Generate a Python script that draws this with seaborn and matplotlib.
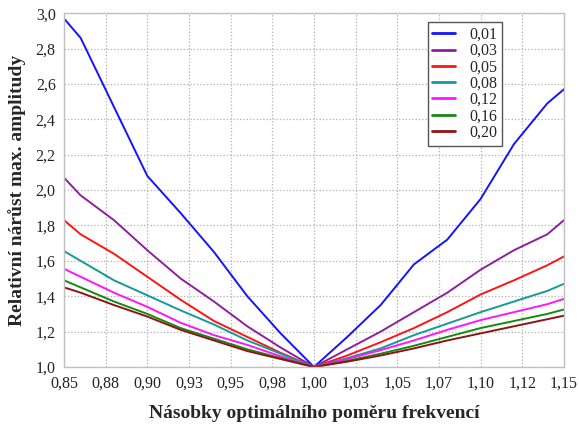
"""
Relative growth of max. amplitude vs. frequency ratio multiples
"""

# Libraries
import numpy as np
import pandas as pd
import seaborn as sns
import matplotlib
matplotlib.use('Agg')
import matplotlib.pyplot as plt

# -----------------------------------
# Data
# -----------------------------------
ratio = [0.85, 0.86, 0.88, 0.90, 0.92, 0.94, 0.96, 0.98, 1.00,
         1.02, 1.04, 1.06, 1.08, 1.10, 1.12, 1.14, 1.15]

damping = ['0,01', '0,03', '0,05', '0,08', '0,12', '0,16', '0,20']

amp_001 = [2.97, 2.86, 2.47, 2.08, 1.87, 1.65, 1.40, 1.19, 1.00,
           1.17, 1.35, 1.58, 1.72, 1.95, 2.26, 2.49, 2.57]
amp_003 = [2.07, 1.97, 1.83, 1.66, 1.50, 1.37, 1.23, 1.11, 1.00,
           1.10, 1.20, 1.31, 1.42, 1.55, 1.66, 1.75, 1.83]
amp_005 = [1.83, 1.75, 1.64, 1.51, 1.38, 1.26, 1.17, 1.08, 1.00,
           1.065, 1.14, 1.22, 1.31, 1.41, 1.49, 1.575, 1.625]
amp_008 = [1.655, 1.60, 1.49, 1.405, 1.32, 1.24, 1.15, 1.075, 1.00,
           1.05, 1.105, 1.18, 1.245, 1.31, 1.37, 1.43, 1.47]
amp_012 = [1.555, 1.51, 1.42, 1.34, 1.25, 1.18, 1.125, 1.06, 1.00,
           1.045, 1.095, 1.15, 1.21, 1.265, 1.31, 1.355, 1.385]
amp_016 = [1.49, 1.45, 1.37, 1.30, 1.22, 1.16, 1.10, 1.05, 1.00,
           1.035, 1.075, 1.12, 1.17, 1.22, 1.26, 1.30, 1.325]
amp_020 = [1.45, 1.42, 1.35, 1.285, 1.21, 1.15, 1.09, 1.045, 1.00,
           1.03, 1.065, 1.105, 1.15, 1.19, 1.23, 1.27, 1.29]

xtick_labels = ['0,85', '0,88', '0,90', '0,93', '0,95', '0,98', '1,00',
                '1,03', '1,05', '1,07', '1,10', '1,12', '1,15']
ytick_labels = ['1,0', '1,2', '1,4', '1,6', '1,8', '2,0', '2,2',
                '2,4', '2,6', '2,8', '3,0']

colors = ['#1414ff', '#8e1f9e', '#ff1414', '#149a9a',
          '#ff14ff', '#148a14', '#8e1414']

# -----------------------------------
# Tidy data
# -----------------------------------
series = [amp_001, amp_003, amp_005, amp_008, amp_012, amp_016, amp_020]
data = pd.concat([
    pd.DataFrame({'ratio': ratio, 'amp': s, 'damping': d})
    for d, s in zip(damping, series)], ignore_index=True)

# -----------------------------------
# Plot
# -----------------------------------
sns.set_theme(style='white')
plt.rcParams['font.family'] = ['Liberation Serif', 'DejaVu Serif']

fig = plt.figure(figsize=(5.79, 4.25), dpi=100)
ax = fig.add_axes([0.1105, 0.1365, 0.8635, 0.8325])

sns.lineplot(data=data, x='ratio', y='amp', hue='damping',
             hue_order=damping, palette=colors, linewidth=1.4,
             ax=ax, legend=True)

# Axes limits and ticks
ax.set_xlim(0.85, 1.15)
ax.set_ylim(1.0, 3.0)
ax.set_xticks(np.linspace(0.85, 1.15, len(xtick_labels)))
ax.set_xticklabels(xtick_labels, fontsize=11.5)
ax.set_yticks(np.linspace(1.0, 3.0, len(ytick_labels)))
ax.set_yticklabels(ytick_labels, fontsize=11.5)
ax.tick_params(length=0, pad=6, colors='#222222')

# Grid and spines
ax.grid(True, linestyle=':', color='#b0b0b0', linewidth=0.9)
for sp in ax.spines.values():
    sp.set_color('#c0c0c0')
    sp.set_linewidth(1.0)

ax.set_xlabel('Násobky optimálního poměru frekvencí', fontsize=14,
              fontweight='bold', labelpad=10)
ax.set_ylabel('Relativní nárůst max. amplitudy', fontsize=14,
              fontweight='bold', labelpad=7)

# Legend
leg = ax.legend(loc='upper right', bbox_to_anchor=(0.876, 0.975),
                borderaxespad=0, fontsize=11.5, title=None,
                fancybox=False, framealpha=1, edgecolor='#555555',
                handlelength=1.4, handletextpad=0.9,
                labelspacing=0.02, borderpad=0.3)
leg.get_frame().set_linewidth(1.0)
for line in leg.get_lines():
    line.set_linewidth(2.0)

fig.savefig('out.png', dpi=100)
